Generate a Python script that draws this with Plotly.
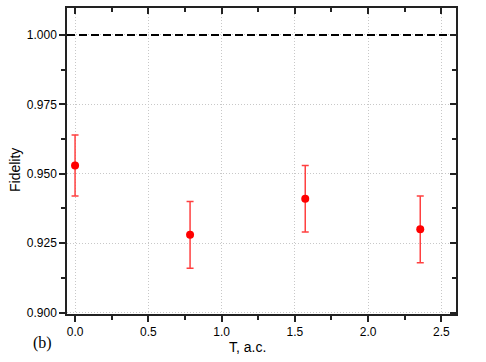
import plotly.graph_objects as go

T_values = [0.0, 0.785, 1.571, 2.356]
fidelity = [0.953, 0.928, 0.941, 0.930]
fid_err = [0.011, 0.012, 0.012, 0.012]
ref_level = 1.0
x_range = [-0.055, 2.6]
y_range = [0.8995, 1.0097]
x_ticks = [0, 0.5, 1.0, 1.5, 2.0, 2.5]
x_ticktext = ["0.0", "0.5", "1.0", "1.5", "2.0", "2.5"]
x_minor = [0.25, 0.75, 1.25, 1.75, 2.25]
y_ticks = [0.9, 0.925, 0.95, 0.975, 1.0]
y_ticktext = ["0.900", "0.925", "0.950", "0.975", "1.000"]
y_minor = [0.9125, 0.9375, 0.9625, 0.9875]

W, H = 486, 362
L, R, T, B = 67, 30, 8, 48
pw, ph = W - L - R, H - T - B

def px_x(x):
    return (x - L) / pw

def px_y(y):
    return (H - B - y) / ph

fig = go.Figure()
fig.add_trace(go.Scatter(x=x_range, y=[ref_level, ref_level], mode="lines",
                         line=dict(color="black", width=2, dash="8px,4px"),
                         showlegend=False, hoverinfo="skip"))
fig.add_trace(go.Scatter(x=T_values, y=fidelity, mode="markers",
                         marker=dict(color="#ff0000", size=8),
                         error_y=dict(type="data", array=fid_err, color="#ff4040",
                                      thickness=1.5, width=3.5),
                         showlegend=False))
fig.add_trace(go.Scatter(x=[0], y=[0.95], xaxis="x2", yaxis="y2", mode="markers",
                         marker=dict(opacity=0), showlegend=False, hoverinfo="skip"))

font_ax = dict(family="Liberation Sans, Arial, sans-serif", size=12, color="black")
common = dict(showline=True, linecolor="#222", linewidth=1.5, zeroline=False,
              ticklen=6, tickwidth=1.5, tickcolor="#222", tickfont=font_ax)
grid = dict(showgrid=True, gridcolor="#c8c8c8", griddash="1px,2px", gridwidth=1)

fig.update_layout(
    width=W, height=H,
    margin=dict(l=L, r=R, t=T, b=B),
    paper_bgcolor="white", plot_bgcolor="white",
    xaxis=dict(range=x_range, tickvals=x_ticks, ticktext=x_ticktext,
               ticks="outside", **grid,
               minor=dict(tickvals=x_minor, ticks="outside",
                          ticklen=4, tickcolor="#222", tickwidth=1.5),
               **common),
    yaxis=dict(range=y_range, tickvals=y_ticks, ticktext=y_ticktext,
               ticks="outside", **grid,
               minor=dict(tickvals=y_minor, ticks="outside",
                          ticklen=4, tickcolor="#222", tickwidth=1.5),
               **common),
    xaxis2=dict(overlaying="x", side="top", range=x_range, matches="x",
                tickvals=x_ticks, showticklabels=False, ticks="inside", showgrid=False,
                minor=dict(tickvals=x_minor, ticks="inside",
                           ticklen=4, tickcolor="#222", tickwidth=1.5),
                **common),
    yaxis2=dict(overlaying="y", side="right", range=y_range, matches="y",
                tickvals=y_ticks, showticklabels=False, ticks="inside", showgrid=False,
                minor=dict(tickvals=y_minor, ticks="inside",
                           ticklen=4, tickcolor="#222", tickwidth=1.5),
                **common),
    annotations=[
        dict(text="(b)", x=px_x(42), y=px_y(343), xref="paper", yref="paper",
             xanchor="center", yanchor="middle", showarrow=False,
             font=dict(family="Liberation Serif, Times New Roman, serif", size=16, color="black")),
        dict(text="T, a.c.", x=px_x(247), y=px_y(347), xref="paper", yref="paper",
             xanchor="center", yanchor="middle", showarrow=False,
             font=dict(family="Liberation Sans, Arial, sans-serif", size=14, color="black")),
        dict(text="Fidelity", x=px_x(15), y=px_y(170), xref="paper", yref="paper",
             xanchor="center", yanchor="middle", showarrow=False, textangle=-90,
             font=dict(family="Liberation Sans, Arial, sans-serif", size=14, color="black")),
    ],
)
fig.write_html("out.html")
